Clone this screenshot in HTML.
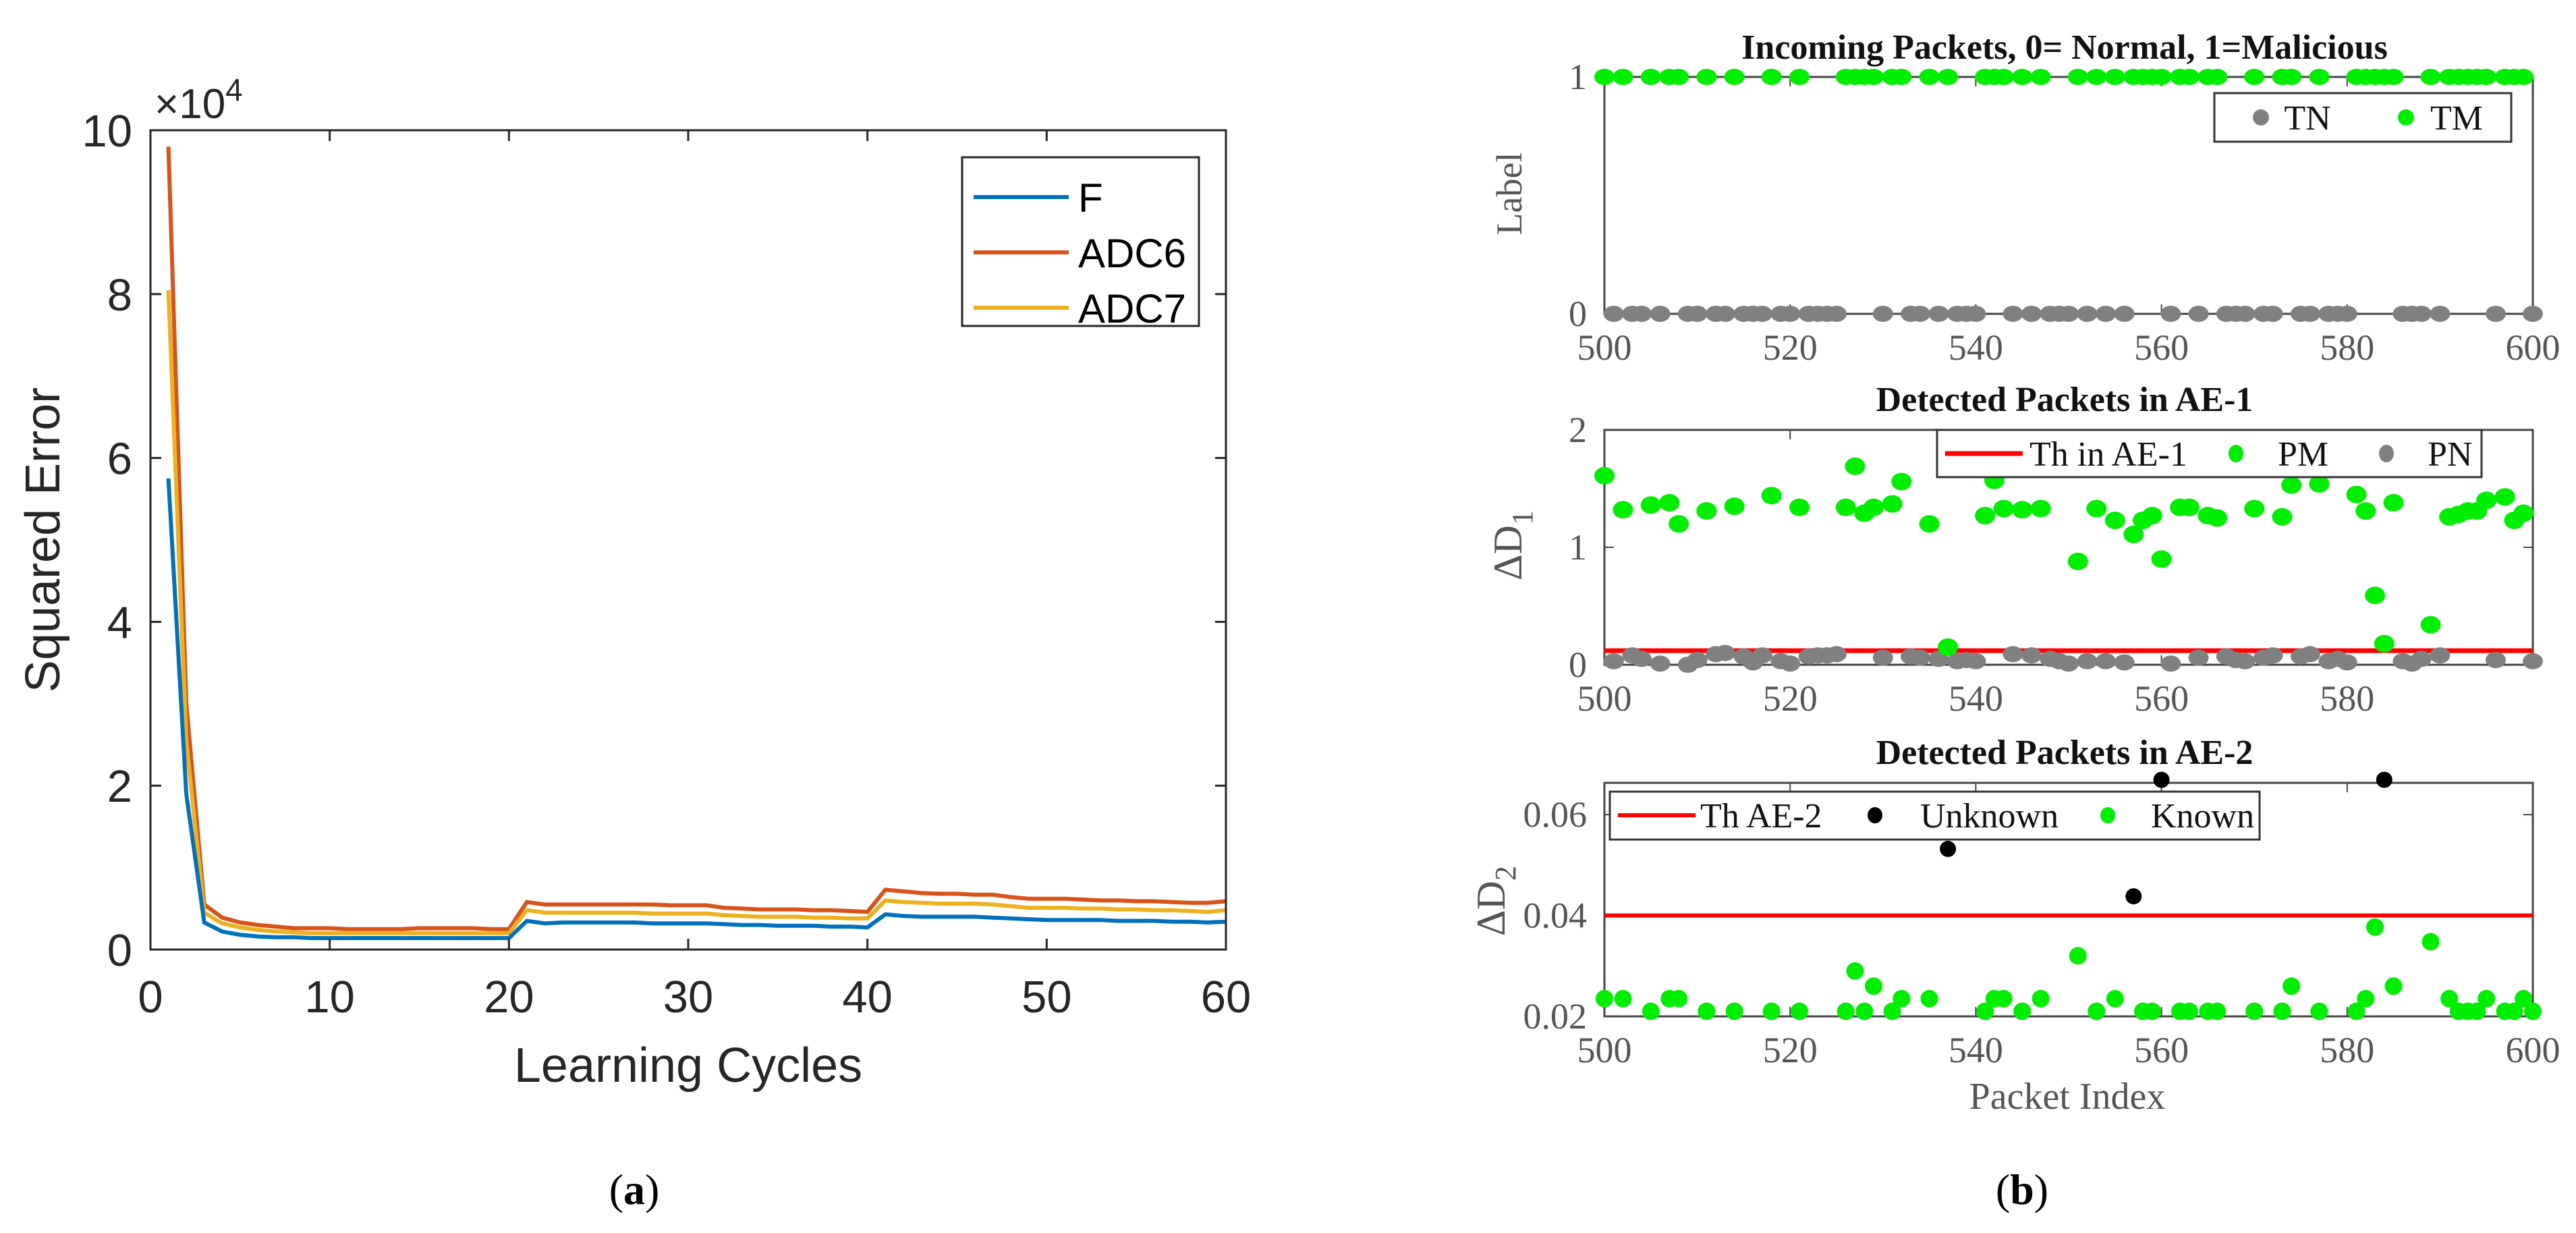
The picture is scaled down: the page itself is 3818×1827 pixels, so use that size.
<!DOCTYPE html>
<html><head><meta charset="utf-8"><style>
html,body{margin:0;padding:0;background:#fff;}
svg{display:block;}
.sans{font-family:"Liberation Sans",Arial,sans-serif;}
.serif{font-family:"Liberation Serif","Times New Roman",serif;}
</style></head><body>
<svg id="fig" width="3818" height="1827" viewBox="0 0 3818 1827" xmlns="http://www.w3.org/2000/svg">
<g id="chartA"></g>
<g id="chartB"></g>
</svg>
<script>
// ---------- Chart (a) data ----------
const cycles = Array.from({length:60},(_,i)=>i+1);
const seriesNames = ["F","ADC6","ADC7"];
const seriesF = [5.75,1.90,0.33,0.22,0.18,0.16,0.15,0.15,0.14,0.14,0.14,0.14,0.14,0.14,0.14,0.14,0.14,0.14,0.14,0.14,0.35,0.32,0.33,0.33,0.33,0.33,0.33,0.32,0.32,0.32,0.32,0.31,0.30,0.30,0.29,0.29,0.29,0.28,0.28,0.27,0.43,0.41,0.40,0.40,0.40,0.40,0.39,0.38,0.37,0.36,0.36,0.36,0.36,0.35,0.35,0.35,0.34,0.34,0.33,0.34];
const seriesADC6 = [9.80,3.00,0.55,0.39,0.33,0.30,0.28,0.26,0.26,0.26,0.25,0.25,0.25,0.25,0.26,0.26,0.26,0.26,0.25,0.25,0.58,0.55,0.55,0.55,0.55,0.55,0.55,0.55,0.54,0.54,0.54,0.51,0.50,0.49,0.49,0.49,0.48,0.48,0.47,0.46,0.73,0.71,0.69,0.68,0.68,0.67,0.67,0.64,0.62,0.62,0.62,0.61,0.60,0.60,0.59,0.59,0.58,0.57,0.57,0.59];
const seriesADC7 = [8.05,2.55,0.45,0.32,0.27,0.24,0.22,0.21,0.20,0.20,0.20,0.20,0.20,0.20,0.20,0.20,0.20,0.20,0.20,0.20,0.48,0.45,0.45,0.45,0.45,0.45,0.45,0.44,0.44,0.44,0.44,0.42,0.41,0.40,0.40,0.40,0.39,0.39,0.38,0.38,0.60,0.58,0.57,0.56,0.56,0.56,0.55,0.53,0.51,0.51,0.51,0.50,0.50,0.49,0.49,0.48,0.48,0.47,0.46,0.48];
const xTicksA = [0,10,20,30,40,50,60];
const yTicksA = [0,2,4,6,8,10];

// ---------- Chart (b) data ----------
const pmIdx = [500,502,505,507,508,511,514,518,521,526,527,528,529,531,532,535,537,541,542,543,545,547,551,553,555,557,558,559,560,562,563,565,566,570,573,574,577,581,582,583,584,585,589,591,592,593,594,595,597,598,599];
const pmVals = [1.61,1.32,1.36,1.38,1.20,1.31,1.35,1.44,1.34,1.34,1.69,1.29,1.34,1.37,1.56,1.20,0.15,1.27,1.57,1.33,1.32,1.33,0.88,1.33,1.23,1.11,1.23,1.27,0.90,1.34,1.34,1.27,1.25,1.33,1.26,1.53,1.54,1.45,1.31,0.59,0.18,1.38,0.34,1.26,1.28,1.31,1.31,1.40,1.43,1.23,1.29];
const pnIdx = [501,503,504,506,509,510,512,513,515,516,517,519,520,522,523,524,525,530,533,534,536,538,539,540,544,546,548,549,550,552,554,556,561,564,567,568,569,571,572,575,576,578,579,580,586,587,588,590,596,600];
const pnVals = [0.03,0.08,0.05,0.01,0.00,0.04,0.09,0.10,0.07,0.02,0.08,0.03,0.01,0.07,0.08,0.08,0.09,0.06,0.07,0.06,0.05,0.03,0.04,0.03,0.09,0.08,0.05,0.03,0.01,0.03,0.03,0.02,0.01,0.06,0.07,0.04,0.03,0.06,0.08,0.07,0.09,0.03,0.05,0.02,0.03,0.01,0.05,0.08,0.04,0.03];
const th1 = 0.12;
const knownIdx = [500,502,505,507,508,511,514,518,521,526,527,528,529,531,532,535,541,542,543,545,547,551,553,555,558,559,562,563,565,566,570,573,574,577,581,582,583,585,589,591,592,593,594,595,597,598,599,600];
const knownVals = [0.0235,0.0235,0.021,0.0235,0.0235,0.021,0.021,0.021,0.021,0.021,0.029,0.021,0.026,0.021,0.0235,0.0235,0.021,0.0235,0.0235,0.021,0.0235,0.032,0.021,0.0235,0.021,0.021,0.021,0.021,0.021,0.021,0.021,0.021,0.026,0.021,0.021,0.0235,0.0377,0.026,0.0348,0.0235,0.021,0.021,0.021,0.0235,0.021,0.021,0.0235,0.021];
const unknownIdx = [537,557,560,584];
const unknownVals = [0.0532,0.0438,0.0669,0.0669];
const th2 = 0.04;
const xTicksB = [500,520,540,560,580,600];
const xTicksB2 = [500,520,540,560,580];

const NS="http://www.w3.org/2000/svg";
function mk(parent, tag, attrs, text){
  const e=document.createElementNS(NS,tag);
  for(const k in attrs) e.setAttribute(k,attrs[k]);
  if(text!==undefined) e.textContent=text;
  parent.appendChild(e); return e;
}

// ================= Chart (a) =================
(function(){
  const g=document.getElementById('chartA');
  const L=223,R=1817,T=193,B=1407;
  const sx=v=>L+(v-0)/(60-0)*(R-L);
  const sy=v=>B-(v-0)/(10-0)*(B-T);
  const ax='#262626';
  // series
  const colors={F:'#0072BD',ADC6:'#D95319',ADC7:'#EDB120'};
  const data={F:seriesF,ADC6:seriesADC6,ADC7:seriesADC7};
  ["ADC6","ADC7","F"].forEach(n=>{
    const d=data[n].map((v,i)=>(i?'L':'M')+sx(cycles[i]).toFixed(1)+','+sy(v).toFixed(1)).join(' ');
    const p=mk(g,'path',{d:d,fill:'none',stroke:colors[n],'stroke-width':6,'stroke-linejoin':'miter'});
    
    
  });
  // box
  const box=mk(g,'rect',{x:L,y:T,width:R-L,height:B-T,fill:'none',stroke:ax,'stroke-width':3});
  
  
  // x ticks
  xTicksA.forEach(t=>{
    const x=sx(t);
    mk(g,'line',{x1:x,y1:B,x2:x,y2:B-16,stroke:ax,'stroke-width':3});
    mk(g,'line',{x1:x,y1:T,x2:x,y2:T+16,stroke:ax,'stroke-width':3});
    const tx=mk(g,'text',{x:x,y:1500,'text-anchor':'middle','font-size':67,fill:ax,class:'sans'},String(t));
    
    
  });
  yTicksA.forEach(t=>{
    const y=sy(t);
    mk(g,'line',{x1:L,y1:y,x2:L+16,y2:y,stroke:ax,'stroke-width':3});
    mk(g,'line',{x1:R,y1:y,x2:R-16,y2:y,stroke:ax,'stroke-width':3});
    const tx=mk(g,'text',{x:196,y:y+24,'text-anchor':'end','font-size':67,fill:ax,class:'sans'},String(t));
    
    
  });
  const ex=mk(g,'text',{x:229,y:175,'font-size':62,fill:ax,class:'sans'});
  
  
  ex.innerHTML='×10<tspan dy="-26" font-size="46">4</tspan>';
  const xl=mk(g,'text',{x:1020,y:1603,'text-anchor':'middle','font-size':72,fill:ax,class:'sans'},'Learning Cycles');
  
  
  const yl=mk(g,'text',{x:0,y:0,'text-anchor':'middle','font-size':72,fill:ax,class:'sans',transform:'translate(88,800) rotate(-90)'},'Squared Error');
  
  
  // legend
  const lg=mk(g,'g',{});
  
  
  mk(lg,'rect',{x:1426,y:233,width:351,height:250,fill:'#fff',stroke:ax,'stroke-width':3});
  seriesNames.forEach((n,i)=>{
    const y=292+i*82;
    mk(lg,'line',{x1:1443,y1:y,x2:1584,y2:y,stroke:colors[n],'stroke-width':6});
    const t=mk(lg,'text',{x:1598,y:y+22,'font-size':60,fill:'#000',class:'sans'},n);
    
    
  });
  const cap=mk(g,'text',{x:940,y:1784,'text-anchor':'middle','font-size':64,fill:'#000',class:'serif'});
  cap.innerHTML='(<tspan font-weight="bold">a</tspan>)';
  
  
})();

// ================= Chart (b) =================
(function(){
  const g=document.getElementById('chartB');
  const L=2378,R=3754;
  const ax='#444';
  const green='#00ee00', gray='#808080';
  const sx=v=>L+(v-500)/(600-500)*(R-L);
  function panel(name,T,B,ymin,ymax,yTicks,yFmt,xt,title,titleY){
    const p=mk(g,'g',{});
    
    
    const sy=v=>B-(v-ymin)/(ymax-ymin)*(B-T);
    mk(p,'rect',{x:L,y:T,width:R-L,height:B-T,fill:'none',stroke:ax,'stroke-width':3});
    xt.forEach(t=>{
      const x=sx(t);
      mk(p,'line',{x1:x,y1:B,x2:x,y2:B-14,stroke:ax,'stroke-width':2});
      mk(p,'line',{x1:x,y1:T,x2:x,y2:T+14,stroke:ax,'stroke-width':2});
      const tx=mk(p,'text',{x:x,y:B+68,'text-anchor':'middle','font-size':54,fill:'#555',class:'serif'},String(t));
      
      
    });
    yTicks.forEach(t=>{
      const y=sy(t);
      mk(p,'line',{x1:L,y1:y,x2:L+14,y2:y,stroke:ax,'stroke-width':2});
      mk(p,'line',{x1:R,y1:y,x2:R-14,y2:y,stroke:ax,'stroke-width':2});
      const tx=mk(p,'text',{x:2352,y:y+18,'text-anchor':'end','font-size':54,fill:'#555',class:'serif'},yFmt(t));
      
      
    });
    const tt=mk(p,'text',{x:3060,y:titleY,'text-anchor':'middle','font-size':52,'font-weight':'bold',fill:'#111',class:'serif'},title);
    
    
    return {p,sy};
  }
  function dot(parent,x,y,rx,ry,fill,nm){
    const e=mk(parent,'ellipse',{cx:x.toFixed(1),cy:y.toFixed(1),rx:rx,ry:ry,fill:fill});
    
    
  }
  // ---- Panel 1 ----
  const p1=panel('incoming-packets-panel',114,465,0,1,[0,1],t=>String(t),xTicksB,'Incoming Packets, 0= Normal, 1=Malicious',87);
  pnIdx.forEach(i=>dot(p1.p,sx(i),p1.sy(0),15,12,gray,'point-tn'));
  pmIdx.forEach(i=>dot(p1.p,sx(i),p1.sy(1),15,12,green,'point-tm'));
  const yl1=mk(p1.p,'text',{'text-anchor':'middle','font-size':54,fill:'#555',class:'serif',transform:'translate(2255,287) rotate(-90)'},'Label');
  
  
  const lg1=mk(p1.p,'g',{});
  
  
  mk(lg1,'rect',{x:3282,y:138,width:440,height:72,fill:'#fff',stroke:'#333','stroke-width':3});
  mk(lg1,'ellipse',{cx:3351,cy:174,rx:12,ry:12,fill:gray});
  mk(lg1,'text',{x:3420,y:192,'text-anchor':'middle','font-size':52,fill:'#111',class:'serif'},'TN');
  mk(lg1,'ellipse',{cx:3566,cy:174,rx:12,ry:12,fill:green});
  mk(lg1,'text',{x:3641,y:192,'text-anchor':'middle','font-size':52,fill:'#111',class:'serif'},'TM');

  // ---- Panel 2 ----
  const p2=panel('ae1-detection-panel',637,985,0,2,[0,1,2],t=>String(t),xTicksB2,'Detected Packets in AE-1',609);
  const t1=mk(p2.p,'line',{x1:L,x2:R,y1:p2.sy(th1),y2:p2.sy(th1),stroke:'#ff0000','stroke-width':7});
  
  
  pnIdx.forEach((i,k)=>dot(p2.p,sx(i),p2.sy(pnVals[k]),15,12,gray,'point-pn'));
  pmIdx.forEach((i,k)=>dot(p2.p,sx(i),p2.sy(pmVals[k]),15,13,green,'point-pm'));
  const yl2=mk(p2.p,'text',{'text-anchor':'middle','font-size':60,fill:'#555',class:'serif',transform:'translate(2255,808) rotate(-90)'});
  yl2.innerHTML='ΔD<tspan dy="16" font-size="44">1</tspan>';
  
  
  const lg2=mk(p2.p,'g',{});
  
  
  mk(lg2,'rect',{x:2871,y:637,width:807,height:70,fill:'#fff',stroke:'#333','stroke-width':3});
  mk(lg2,'line',{x1:2883,x2:2998,y1:672,y2:672,stroke:'#ff0000','stroke-width':7});
  mk(lg2,'text',{x:3008,y:690,'font-size':52,fill:'#111',class:'serif'},'Th in AE-1');
  mk(lg2,'ellipse',{cx:3314,cy:672,rx:11,ry:13,fill:green});
  mk(lg2,'text',{x:3376,y:690,'font-size':52,fill:'#111',class:'serif'},'PM');
  mk(lg2,'ellipse',{cx:3537,cy:672,rx:11,ry:13,fill:gray});
  mk(lg2,'text',{x:3598,y:690,'font-size':52,fill:'#111',class:'serif'},'PN');

  // ---- Panel 3 ----
  const p3=panel('ae2-detection-panel',1160,1506,0.02,0.0663,[0.02,0.04,0.06],t=>t.toFixed(2),xTicksB,'Detected Packets in AE-2',1132);
  const t2=mk(p3.p,'line',{x1:L,x2:R,y1:p3.sy(th2),y2:p3.sy(th2),stroke:'#ff0000','stroke-width':6});
  
  
  knownIdx.forEach((i,k)=>dot(p3.p,sx(i),p3.sy(knownVals[k]),13,13,green,'point-known'));
  unknownIdx.forEach((i,k)=>dot(p3.p,sx(i),p3.sy(unknownVals[k]),12,12,'#000','point-unknown'));
  const yl3=mk(p3.p,'text',{'text-anchor':'middle','font-size':60,fill:'#555',class:'serif',transform:'translate(2230,1335) rotate(-90)'});
  yl3.innerHTML='ΔD<tspan dy="16" font-size="44">2</tspan>';
  
  
  const lg3=mk(p3.p,'g',{});
  
  
  mk(lg3,'rect',{x:2386,y:1173,width:963,height:71,fill:'#fff',stroke:'#333','stroke-width':3});
  mk(lg3,'line',{x1:2398,x2:2513,y1:1208,y2:1208,stroke:'#ff0000','stroke-width':6});
  mk(lg3,'text',{x:2520,y:1226,'font-size':52,fill:'#111',class:'serif'},'Th AE-2');
  mk(lg3,'ellipse',{cx:2779,cy:1208,rx:11,ry:12,fill:'#000'});
  mk(lg3,'text',{x:2846,y:1226,'font-size':52,fill:'#111',class:'serif'},'Unknown');
  mk(lg3,'ellipse',{cx:3124,cy:1208,rx:11,ry:12,fill:green});
  mk(lg3,'text',{x:3188,y:1226,'font-size':52,fill:'#111',class:'serif'},'Known');
  const xl=mk(p3.p,'text',{x:3064,y:1643,'text-anchor':'middle','font-size':56,fill:'#555',class:'serif'},'Packet Index');
  
  
  const cap=mk(g,'text',{x:2997,y:1784,'text-anchor':'middle','font-size':64,fill:'#000',class:'serif'});
  cap.innerHTML='(<tspan font-weight="bold">b</tspan>)';
  
  
})();
</script>
</body></html>
